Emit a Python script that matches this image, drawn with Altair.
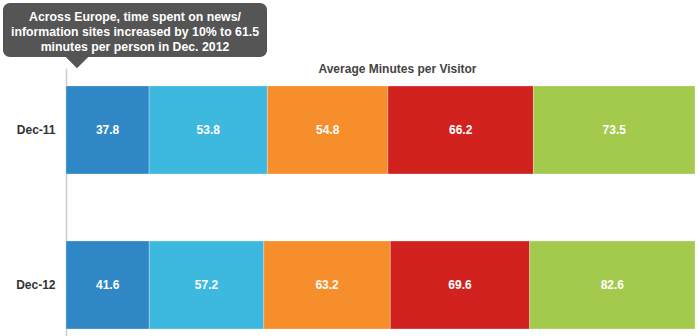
import altair as alt
import pandas as pd

periods = ["Dec-11", "Dec-12"]
segments = ["S1", "S2", "S3", "S4", "S5"]
dec11 = [37.8, 53.8, 54.8, 66.2, 73.5]
dec12 = [41.6, 57.2, 63.2, 69.6, 82.6]
colors = ["#2F87C5", "#3DB9DF", "#F68E2C", "#D2221F", "#A3CA4D"]
title_text = "Average Minutes per Visitor"
callout_lines = [
    "Across Europe, time spent on news/",
    "information sites increased by 10% to 61.5",
    "minutes per person in Dec. 2012",
]

rows = []
for p, vals in zip(periods, [dec11, dec12]):
    for i, (s, v) in enumerate(zip(segments, vals)):
        rows.append({"period": p, "segment": s, "order": i, "value": v})
df = pd.DataFrame(rows)

FONT = "Liberation Sans"

base = alt.Chart(df).transform_stack(
    stack="value",
    groupby=["period"],
    as_=["x0", "x1"],
    offset="normalize",
    sort=[alt.SortField("order", order="ascending")],
).transform_calculate(mid="(datum.x0 + datum.x1) / 2")

yenc = alt.Y(
    "period:N",
    sort=periods,
    title=None,
    scale=alt.Scale(paddingInner=0.432, paddingOuter=0.0805, align=0.72),
    axis=alt.Axis(
        ticks=False,
        domainColor="#cccccc",
        domainWidth=1.5,
        labelFont=FONT,
        labelFontSize=12,
        labelFontWeight="bold",
        labelColor="#333333",
        labelPadding=11,
        grid=False,
    ),
)

xscale = alt.Scale(domain=[0, 1], nice=False, zero=True)

bars = base.mark_bar(stroke="#f4f4f4", strokeWidth=0.3).encode(
    x=alt.X("x0:Q", scale=xscale, axis=None),
    x2="x1:Q",
    y=yenc,
    color=alt.Color("segment:N", scale=alt.Scale(domain=segments, range=colors), legend=None),
)

labels = base.mark_text(
    font=FONT, fontSize=12, fontWeight="bold", color="white"
).encode(
    x=alt.X("mid:Q", scale=xscale, axis=None),
    y=alt.Y("period:N", sort=periods),
    text=alt.Text("value:Q", format=".1f"),
)

title = alt.Chart(pd.DataFrame({"t": [title_text]})).mark_text(
    font=FONT, fontSize=12, fontWeight="bold", color="#444444", baseline="alphabetic"
).encode(x=alt.value(331.5), y=alt.value(5), text="t:N")

box = alt.Chart(pd.DataFrame({"a": [0]})).mark_rect(
    color="#555555", cornerRadius=7
).encode(x=alt.value(-63), x2=alt.value(201), y=alt.value(-65), y2=alt.value(-11))

pointer = alt.Chart(pd.DataFrame({"a": [0]})).mark_point(
    shape="M -1 -0.5 L 1 -0.5 L 0 0.5 Z", filled=True, color="#555555", size=529, opacity=1
).encode(x=alt.value(11), y=alt.value(-5.5))

callout_layers = []
for i, line in enumerate(callout_lines):
    callout_layers.append(
        alt.Chart(pd.DataFrame({"t": [line]})).mark_text(
            font=FONT, fontSize=12.3, fontWeight="bold", color="white", baseline="alphabetic"
        ).encode(x=alt.value(69), y=alt.value(-47.5 + 15 * i), text="t:N")
    )

chart = alt.layer(bars, labels, title, box, pointer, *callout_layers).properties(
    width=629,
    height=268,
    background="white",
    autosize=alt.AutoSizeParams(type="none"),
    padding={"left": 66, "top": 68, "right": 5, "bottom": 0},
).configure_view(stroke="transparent", strokeWidth=0)

chart.save("out.html", embed_options={"renderer": "svg", "actions": False})
